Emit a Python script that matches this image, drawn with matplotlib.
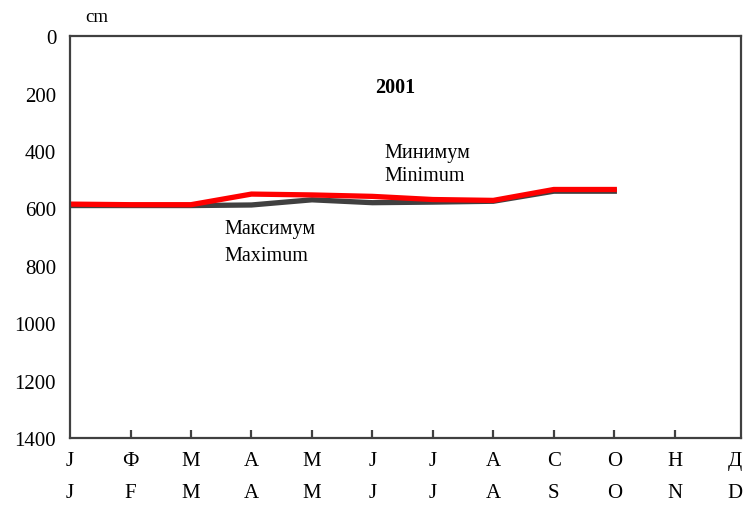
import matplotlib
matplotlib.use("Agg")
import matplotlib.pyplot as plt

plt.rcParams['font.family'] = ['Liberation Serif', 'DejaVu Serif']

months_ru = ['J', 'Ф', 'M', 'A', 'M', 'J', 'J', 'A', 'C', 'O', 'H', 'Д']
months_en = ['J', 'F', 'M', 'A', 'M', 'J', 'J', 'A', 'S', 'O', 'N', 'D']
maximum = [590, 590, 590, 588, 570, 580, 578, 575, 540, 540]
minimum = [585, 587, 587, 550, 553, 558, 569, 572, 534, 534]
yticks = [0, 200, 400, 600, 800, 1000, 1200, 1400]

fig = plt.figure(figsize=(7.45, 5.06), dpi=100)
ax = fig.add_axes([0.094, 0.1324, 0.901, 0.794])

x = range(len(maximum))
ax.plot(x, maximum, color='#404040', lw=3.8, solid_joinstyle='miter')
ax.plot(x, minimum, color='#ff0000', lw=3.8, solid_joinstyle='miter')

ax.set_xlim(0, 11.1)
ax.set_ylim(1400, 0)
ax.set_yticks(yticks)
ax.set_yticklabels([str(v) for v in yticks], fontsize=15)
ax.set_xticks(range(12))
ax.set_xticklabels([r + '\n' + e for r, e in zip(months_ru, months_en)],
                   fontsize=15, linespacing=1.98)

for s in ax.spines.values():
    s.set_color('#404040')
    s.set_linewidth(1.6)
ax.tick_params(axis='y', length=0, pad=10)
ax.tick_params(axis='x', direction='in', length=6, width=1.6, color='#404040', pad=9)
xt = ax.xaxis.get_major_ticks()
for t in (xt[0], xt[-1]):
    t.tick1line.set_visible(False)

fig.text(85 / 745, 1 - 18 / 506, 'cm', fontsize=13.5, va='center')
fig.text(395 / 745, 1 - 88 / 506, '2001', fontsize=14.5, fontweight='bold',
         ha='center', va='center')
ax.text(5.2, 405, 'Минимум', fontsize=14.5, va='center')
ax.text(5.2, 485, 'Minimum', fontsize=14.5, va='center')
ax.text(2.55, 670, 'Максимум', fontsize=14.5, va='center')
ax.text(2.55, 765, 'Maximum', fontsize=14.5, va='center')

fig.savefig('out.png', dpi=100)
